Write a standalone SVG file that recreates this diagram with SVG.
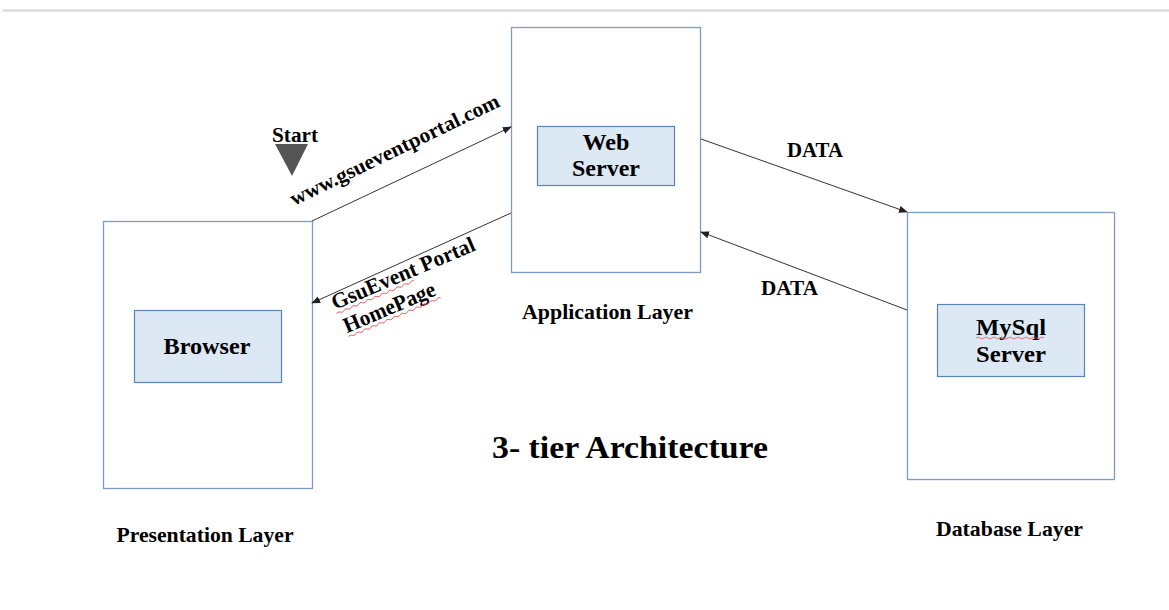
<svg xmlns="http://www.w3.org/2000/svg" width="1169" height="610" viewBox="0 0 1169 610">
<defs>
<style>
.t{font-family:"Liberation Serif","Times New Roman",serif;font-weight:bold;fill:#000}
.outer{fill:#fff;stroke:#7d9dc2;stroke-width:1.3}
.inner{fill:#dde8f5;stroke:#5a84b6;stroke-width:1.2}
.conn{stroke:#333;stroke-width:1;fill:none;marker-end:url(#ah)}
.sq{stroke:#e05050;stroke-width:0.8;fill:none}
</style>
<marker id="ah" viewBox="0 0 10 10" refX="9" refY="5" markerWidth="9" markerHeight="9" markerUnits="userSpaceOnUse" orient="auto">
<path d="M0,1 L10,5 L0,9 z" fill="#222"/>
</marker>
</defs>
<rect width="1169" height="610" fill="#fff"/>
<rect x="3" y="9" width="1166" height="3" fill="#e0e0e0"/>

<g id="presentation">
<rect class="outer" x="103.5" y="221.5" width="209" height="267"/>
<rect class="inner" x="134.5" y="310.5" width="147" height="72"/>
<text class="t" x="207" y="354" font-size="24" text-anchor="middle" textLength="87" lengthAdjust="spacingAndGlyphs">Browser</text>
<text class="t" x="205" y="542" font-size="21" text-anchor="middle" textLength="177" lengthAdjust="spacingAndGlyphs">Presentation Layer</text>
</g>

<g id="application">
<rect class="outer" x="511.5" y="27.5" width="189" height="245"/>
<rect class="inner" x="537.5" y="126.5" width="137" height="59"/>
<text class="t" x="606" y="150" font-size="24" text-anchor="middle" textLength="47" lengthAdjust="spacingAndGlyphs">Web</text>
<text class="t" x="606" y="176" font-size="24" text-anchor="middle" textLength="68" lengthAdjust="spacingAndGlyphs">Server</text>
<text class="t" x="607.5" y="319" font-size="21" text-anchor="middle" textLength="171" lengthAdjust="spacingAndGlyphs">Application Layer</text>
</g>

<g id="database">
<rect class="outer" x="907.5" y="212.5" width="207" height="267"/>
<rect class="inner" x="937.5" y="304.5" width="147" height="72"/>
<text class="t" x="1011" y="335" font-size="24" text-anchor="middle" textLength="70" lengthAdjust="spacingAndGlyphs">MySql</text>
<path class="sq" d="M976,338 q2,-2 4,0 t4,0 t4,0 t4,0 t4,0 t4,0 t4,0 t4,0 t4,0 t4,0 t4,0 t4,0 t4,0 t4,0 t4,0 t4,0 t4,0"/>
<text class="t" x="1011" y="362" font-size="24" text-anchor="middle" textLength="70" lengthAdjust="spacingAndGlyphs">Server</text>
<text class="t" x="1009.5" y="536" font-size="21" text-anchor="middle" textLength="147" lengthAdjust="spacingAndGlyphs">Database Layer</text>
</g>

<g id="start">
<text class="t" x="295" y="142" font-size="20" text-anchor="middle" textLength="46" lengthAdjust="spacingAndGlyphs">Start</text>
<polygon points="275,144 308,144 292,176" fill="#555"/>
</g>

<g id="title">
<text class="t" x="630" y="458" font-size="32" text-anchor="middle" textLength="276" lengthAdjust="spacingAndGlyphs">3- tier Architecture</text>
</g>

<g id="connectors">
<line class="conn" x1="312" y1="221" x2="511" y2="127"/>
<line class="conn" x1="511" y1="213" x2="312" y2="303"/>
<line class="conn" x1="701" y1="139" x2="907" y2="212"/>
<line class="conn" x1="907" y1="310" x2="701" y2="232"/>
</g>

<g id="labels">
<text class="t" font-size="21" transform="translate(294,206) rotate(-25.8)" textLength="230" lengthAdjust="spacingAndGlyphs">www.gsueventportal.com</text>
<g transform="translate(335,310) rotate(-23)">
<text class="t" font-size="22" x="0" y="0" textLength="154" lengthAdjust="spacingAndGlyphs">GsuEvent Portal</text>
<path class="sq" d="M0,4 q2,-2 4,0 t4,0 t4,0 t4,0 t4,0 t4,0 t4,0 t4,0 t4,0 t4,0 t4,0 t4,0 t4,0 t4,0 t4,0 t4,0 t4,0 t4,0 t4,0 t4,0 t4,0"/>
<text class="t" font-size="22" x="2" y="26" textLength="98" lengthAdjust="spacingAndGlyphs">HomePage</text>
<path class="sq" d="M2,30 q2,-2 4,0 t4,0 t4,0 t4,0 t4,0 t4,0 t4,0 t4,0 t4,0 t4,0 t4,0 t4,0 t4,0 t4,0 t4,0 t4,0 t4,0 t4,0 t4,0 t4,0 t4,0 t4,0 t4,0 t4,0 t4,0"/>
</g>
<text class="t" x="815" y="157" font-size="20" text-anchor="middle" textLength="56" lengthAdjust="spacingAndGlyphs">DATA</text>
<text class="t" x="789.5" y="295" font-size="20" text-anchor="middle" textLength="57" lengthAdjust="spacingAndGlyphs">DATA</text>
</g>
</svg>
